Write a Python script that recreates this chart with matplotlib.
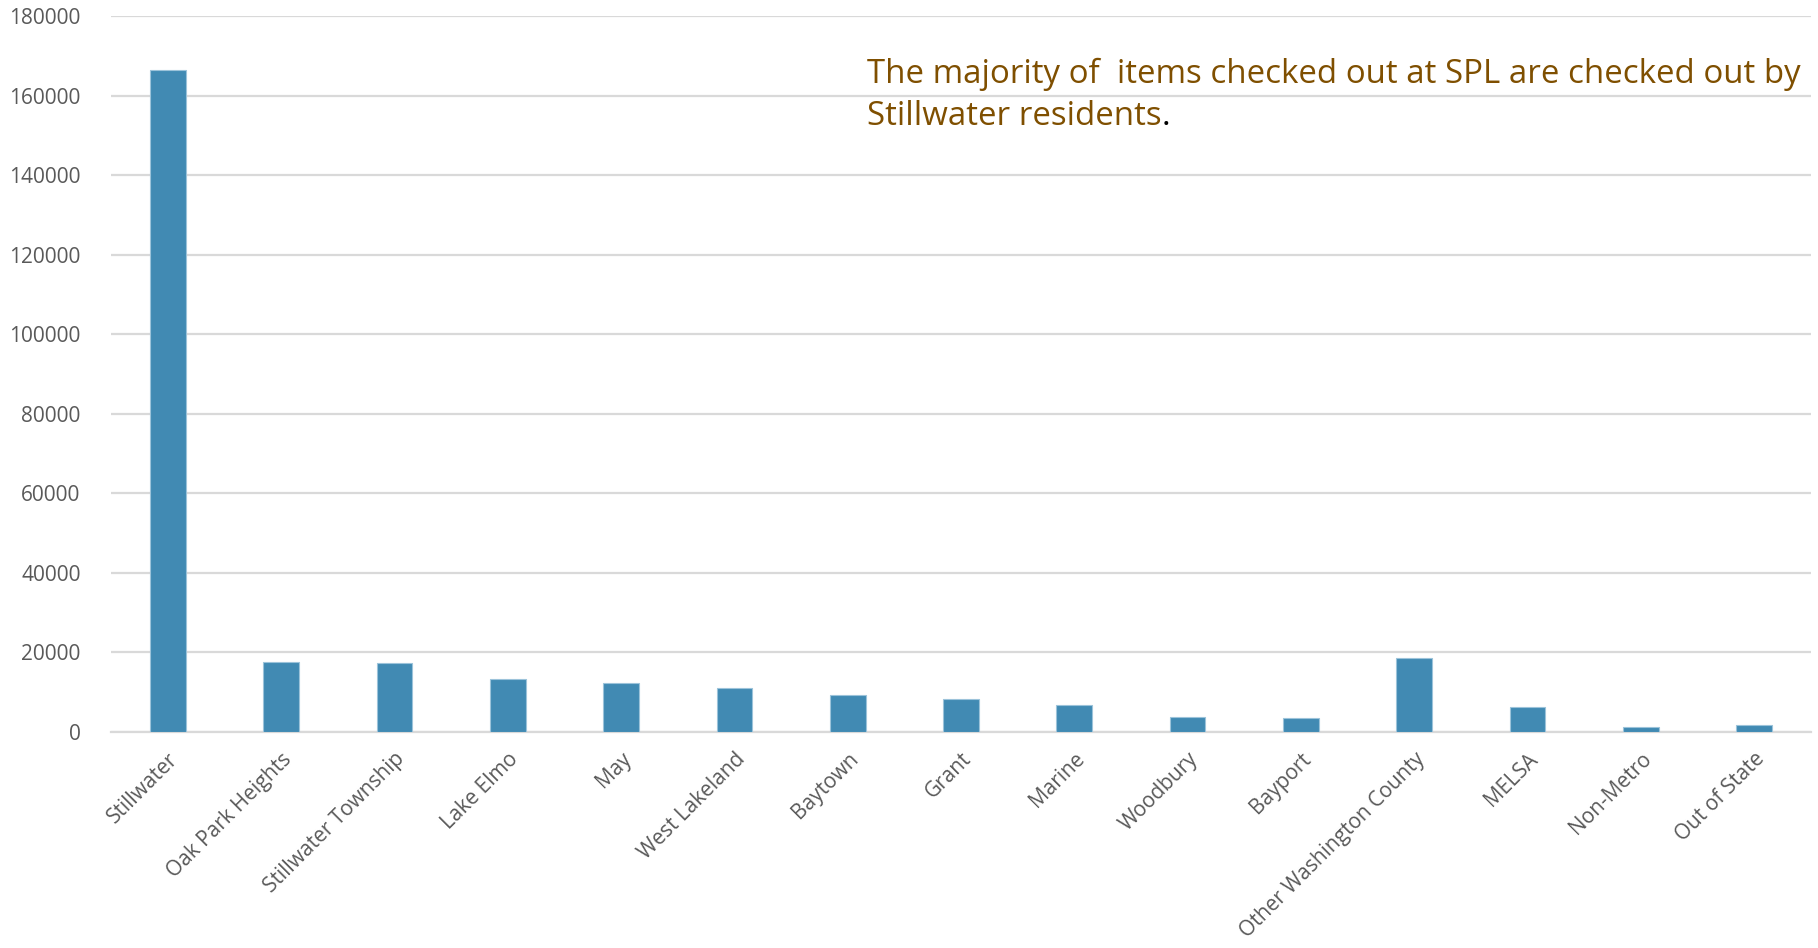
import numpy as np
import matplotlib
matplotlib.use('Agg')
import matplotlib.pyplot as plt

places = ['Stillwater', 'Oak Park Heights', 'Stillwater Township', 'Lake Elmo', 'May',
          'West Lakeland', 'Baytown', 'Grant', 'Marine', 'Woodbury', 'Bayport',
          'Other Washington County', 'MELSA', 'Non-Metro', 'Out of State']
checkouts = [166500, 17700, 17300, 13300, 12400, 11000, 9300, 8200, 6700, 3800, 3500,
             18700, 6200, 1300, 1700]
y_ticks = [0, 20000, 40000, 60000, 80000, 100000, 120000, 140000, 160000, 180000]

bar_color = '#418AB3'
grid_color = '#D9D9D9'
label_color = '#595959'
note_color = '#7F4F00'

plt.rcParams['font.family'] = ['Open Sans', 'DejaVu Sans']

fig = plt.figure(figsize=(18.18, 9.48), dpi=100)
ax = fig.add_axes([0.0611, 0.2278, 0.935, 0.7553])

x = np.arange(len(places))
ax.bar(x, checkouts, width=0.315, color=bar_color, edgecolor='#9CC3DA', linewidth=0.8, zorder=3)

ax.set_xlim(-0.5, len(places) - 0.5)
ax.set_ylim(0, 180000)
ax.set_yticks(y_ticks)
ax.set_yticklabels([str(v) for v in y_ticks])
ax.yaxis.grid(True, color=grid_color, linewidth=1.6, zorder=0)
ax.set_axisbelow(True)

for s in ['top', 'right', 'left']:
    ax.spines[s].set_visible(False)
ax.spines['bottom'].set_color(grid_color)
ax.spines['bottom'].set_linewidth(1.6)

ax.tick_params(axis='y', length=0, pad=22, labelsize=15, labelcolor=label_color)
ax.tick_params(axis='x', length=0, pad=12, labelsize=15, labelcolor=label_color)
ax.set_xticks(x)
ax.set_xticklabels(places, rotation=45, ha='right', rotation_mode='anchor')

# note in the upper right, final period in black
note_kw = dict(transform=ax.transAxes, ha='left', va='baseline', fontsize=23.8, color=note_color)
ax.text(0.4447, 0.906, 'The majority of  items checked out at SPL are checked out by', **note_kw)
line2 = ax.text(0.4447, 0.848, 'Stillwater residents', **note_kw)
ax.annotate('.', xy=(1, 0), xycoords=line2, ha='left', va='bottom',
            fontsize=23.8, color='black')

fig.savefig('out.png', dpi=100, facecolor='white')
